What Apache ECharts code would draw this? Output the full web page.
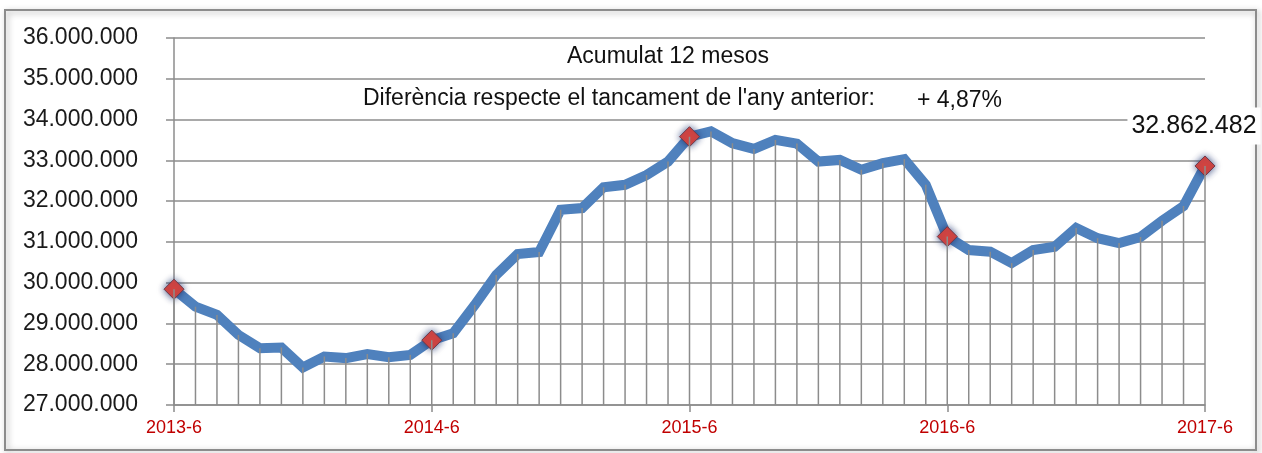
<!DOCTYPE html>
<html>
<head>
<meta charset="utf-8">
<script src="https://cdn.jsdelivr.net/npm/echarts@6/dist/echarts.min.js"></script>
<style>
  html, body { margin: 0; padding: 0; background: #fff; }
  #main { width: 1262px; height: 453px; }
</style>
</head>
<body>
<div id="main"></div>
<script>
// monthly categories 2013-6 .. 2017-6
var months = [];
for (var y = 2013; y <= 2017; y++) {
  for (var m = 1; m <= 12; m++) {
    if ((y === 2013 && m < 6) || (y === 2017 && m > 6)) continue;
    months.push(y + "-" + m);
  }
}

// accumulated 12 months
var values = [
  29840000, 29410000, 29210000, 28720000, 28390000, 28410000, 27920000,
  28190000, 28150000, 28250000, 28170000, 28230000, 28590000, 28760000,
  29450000, 30190000, 30700000, 30750000, 31790000, 31830000, 32340000,
  32400000, 32640000, 32970000, 33580000, 33710000, 33420000, 33280000,
  33500000, 33410000, 32970000, 33010000, 32770000, 32930000, 33030000,
  32400000, 31130000, 30800000, 30760000, 30480000, 30800000, 30880000,
  31340000, 31090000, 30970000, 31120000, 31520000, 31880000, 32862482
];

// points with a diamond marker (every June)
var markIdx = [0, 12, 24, 36, 48];

var yTicks = [27000000, 36000000, 1000000]; // min, max, step

function fmt(v) {
  return String(Math.round(v)).replace(/\B(?=(\d{3})+(?!\d))/g, ".");
}

var FONT = "Liberation Sans";
var myChart = echarts.init(document.getElementById("main"));

// only the last point carries the value label
var lineData = values.map(function (v, i) {
  if (i !== values.length - 1) return v;
  return {
    value: v,
    label: {
      show: true,
      position: "top",
      formatter: function (p) {
        return fmt(p.value);
      },
      fontSize: 25,
      color: "#111",
      fontFamily: FONT,
      backgroundColor: "#fff",
      padding: [6, 4],
      offset: [-11, -6],
    },
  };
});

var option = {
  animation: false,
  textStyle: { fontFamily: FONT },
  graphic: [
    {
      type: "rect",
      shape: { x: 5, y: 10, width: 1251, height: 440 },
      style: {
        fill: "none",
        stroke: "#8c8c8c",
        lineWidth: 2,
        shadowBlur: 6,
        shadowOffsetX: 2,
        shadowOffsetY: 2,
        shadowColor: "rgba(0,0,0,0.35)",
      },
      z: -1,
    },
    {
      type: "text",
      left: 567,
      top: 45,
      style: { text: "Acumulat 12 mesos", font: "23px " + FONT, fill: "#111" },
    },
    {
      type: "text",
      left: 363,
      top: 87,
      style: {
        text: "Diferència respecte el tancament de l'any anterior:",
        font: "23px " + FONT,
        fill: "#111",
      },
    },
    {
      type: "text",
      left: 917,
      top: 89,
      style: { text: "+ 4,87%", font: "23px " + FONT, fill: "#111" },
    },
  ],
  grid: { left: 174, right: 57, top: 38, bottom: 48 },
  xAxis: {
    type: "category",
    data: months,
    boundaryGap: false,
    axisLine: { lineStyle: { color: "#8c8c8c", width: 1.5 } },
    axisTick: {
      show: true,
      interval: 11,
      length: 7,
      lineStyle: { color: "#8c8c8c", width: 1.5 },
    },
    axisLabel: {
      interval: 11,
      color: "#c00000",
      fontSize: 18,
      margin: 14,
      fontFamily: FONT,
    },
    splitLine: { show: false },
  },
  yAxis: {
    type: "value",
    min: yTicks[0],
    max: yTicks[1],
    interval: yTicks[2],
    axisLine: { show: true, lineStyle: { color: "#8c8c8c", width: 1.5 } },
    axisTick: { show: true, length: 8, lineStyle: { color: "#8c8c8c", width: 1.5 } },
    axisLabel: {
      color: "#1a1a1a",
      fontSize: 23,
      margin: 36,
      fontFamily: FONT,
      formatter: fmt,
    },
    splitLine: { lineStyle: { color: "#8c8c8c", width: 1.5 } },
  },
  series: [
    {
      name: "Acumulat 12 mesos",
      type: "line",
      data: lineData,
      z: 2,
      lineStyle: { color: "#4f81bd", width: 10, join: "miter" },
      itemStyle: {
        color: "#d9453f",
        borderColor: "#6a3a4a",
        borderWidth: 1,
        shadowBlur: 7,
        shadowColor: "rgba(30,50,110,0.85)",
      },
      showSymbol: true,
      showAllSymbol: true,
      symbol: function (v, p) {
        return markIdx.indexOf(p.dataIndex) >= 0 ? "diamond" : "none";
      },
      symbolSize: 20,
    },
    {
      // drop lines from each month down to the axis
      type: "bar",
      data: values,
      barWidth: 1.5,
      z: 3,
      silent: true,
      itemStyle: { color: "#8c8c8c" },
    },
  ],
};

myChart.setOption(option);
</script>
</body>
</html>
